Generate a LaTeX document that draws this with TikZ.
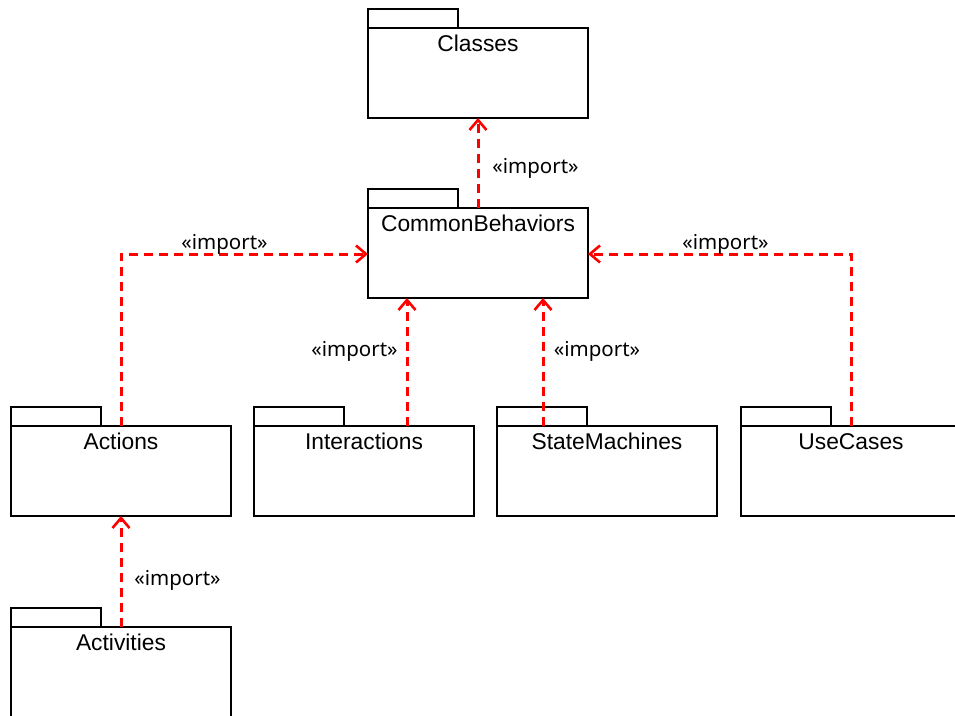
\documentclass[tikz,border=0pt]{standalone}
\usepackage{fontspec}
\setmainfont{Liberation Sans}
\newfontfamily\labelfont{Noto Sans}
\usetikzlibrary{arrows.meta}

\tikzset{
  pkgline/.style={draw=black, line width=1.8pt, outer sep=0pt},
  pkgbody/.style={pkgline, rectangle, minimum width=220pt, minimum height=90pt,
                  inner sep=0pt, anchor=north west},
  pkgtab/.style={pkgline, rectangle, minimum width=90pt, minimum height=19pt,
                 inner sep=0pt, anchor=south west},
  pkgname/.style={anchor=base, inner sep=0pt, font=\fontsize{22.8}{26}\selectfont},
  imports/.style={draw=red, line width=3pt, dash pattern=on 9pt off 6pt,
                  -{Straight Barb[length=10pt,width=17pt,line width=2.6pt]}},
  implabel/.style={anchor=base, inner sep=0pt,
                   font=\labelfont\fontsize{20.5}{24}\selectfont}
}

% a UML package: tab above the body, name near the top of the body
\newcommand{\umlpackage}[3]{%
  \node[pkgbody] (#1) at (#2) {};
  \node[pkgtab] (#1-tab) at (#1.north west) {};
  \node[pkgname] (#1-name) at ([yshift=-23.5pt]#1.north) {#3};
}

\begin{document}
\begin{tikzpicture}[x=1pt, y=-1pt]
  \useasboundingbox (0,0) rectangle (955,715);
  \clip (0,0) rectangle (955,715);

  \umlpackage{classes}{368,28}{Classes}
  \umlpackage{common}{368,208}{CommonBehaviors}
  \umlpackage{actions}{11,426}{Actions}
  \umlpackage{interactions}{254,426}{Interactions}
  \umlpackage{statemachines}{497,426}{StateMachines}
  \umlpackage{usecases}{741,426}{UseCases}
  \umlpackage{activities}{11,627}{Activities}

  % bend points of the routed dependencies
  \coordinate (actionsbend) at (121,254);
  \coordinate (usecasesbend) at (851,254);

  % import dependencies
  \draw[imports] (common.north -| 478,0) -- (classes.south -| 478,0);
  \draw[imports] (actions.north -| actionsbend) -- (actionsbend) -- (common.west |- actionsbend);
  \draw[imports] (interactions.north -| 407,0) -- (common.south -| 407,0);
  \draw[imports] (statemachines.north -| 543,0) -- (common.south -| 543,0);
  \draw[imports] (usecases.north -| usecasesbend) -- (usecasesbend) -- (common.east |- usecasesbend);
  \draw[imports] (activities.north -| 121,0) -- (actions.south -| 121,0);

  % dependency labels
  \node[implabel] (lbl-classes) at (535.5,173) {«import»};
  \node[implabel] (lbl-actions) at (224.5,249) {«import»};
  \node[implabel] (lbl-usecases) at (725.5,249) {«import»};
  \node[implabel] (lbl-interactions) at (354.5,356) {«import»};
  \node[implabel] (lbl-statemachines) at (597,356) {«import»};
  \node[implabel] (lbl-activities) at (177.5,585) {«import»};
\end{tikzpicture}
\end{document}
